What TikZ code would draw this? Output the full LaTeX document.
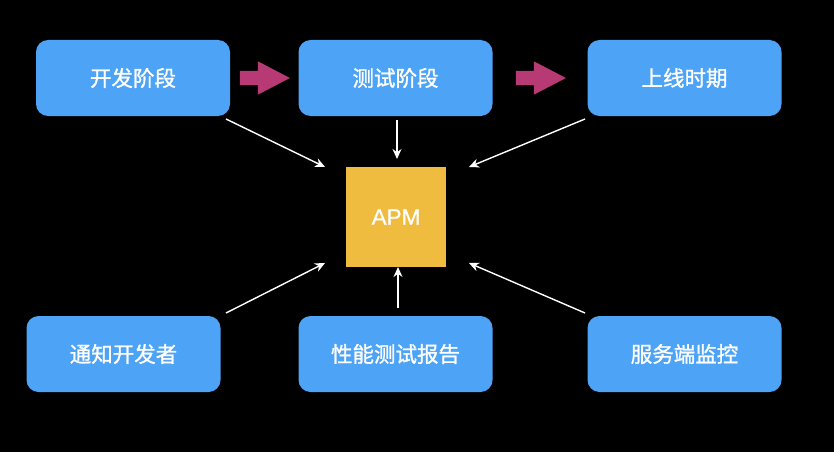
\documentclass[tikz,border=0pt]{standalone}
\usepackage{fontspec}
\setmainfont{Noto Sans CJK SC}
\newfontfamily\stagefont{Noto Sans CJK SC}[FakeBold=1.2]
\newfontfamily\apmfont{Liberation Sans}[FakeBold=0.8]
\usetikzlibrary{positioning, arrows.meta, shapes.arrows}
\definecolor{boxblue}{HTML}{4DA3F6}
\definecolor{apmyellow}{HTML}{F0BC40}
\definecolor{steppink}{HTML}{B83A74}

\begin{document}
\begin{tikzpicture}[x=1pt, y=-1pt,
  stage/.style={fill=boxblue, rounded corners=12pt, minimum width=194pt, minimum height=76pt, text=white, font=\stagefont\fontsize{21.5}{24}\selectfont},
  core/.style={fill=apmyellow, minimum width=100pt, minimum height=100pt, text=white, font=\apmfont\fontsize{22.5}{25}\selectfont},
  flow/.style={single arrow, fill=steppink, minimum height=50pt, minimum width=33pt, inner sep=7pt, single arrow head extend=9.5pt, single arrow tip angle=55},
  link/.style={-{Stealth[length=10pt, width=9pt]}, draw=white, line width=1.4pt}]
  \fill[black] (0,0) rectangle (834,452);
  \useasboundingbox (0,0) rectangle (834,452);
  \node[stage] (dev) at (133,78) {开发阶段};
  \node[stage] (test) at (395.5,78) {测试阶段};
  \node[stage] (live) at (684.5,78) {上线时期};
  \node[stage] (notify) at (123.5,354) {通知开发者};
  \node[stage] (report) at (395.5,354) {性能测试报告};
  \node[stage] (server) at (684.5,354) {服务端监控};
  \node[core] (apm) at (396,217) {APM};
  \node[flow] (f1) at (258,78) {};
  \node[flow] (f2) at (534,78) {};
  % free ends
  \coordinate (a1) at (226,119);
  \coordinate (b1) at (325,167);
  \coordinate (a2) at (397,120);
  \coordinate (b2) at (397,159);
  \coordinate (a3) at (585,119);
  \coordinate (b3) at (469,167);
  \coordinate (a4) at (226,313);
  \coordinate (b4) at (325,263);
  \coordinate (a5) at (398,308);
  \coordinate (b5) at (398,267);
  \coordinate (a6) at (585,313);
  \coordinate (b6) at (469,263);
  \draw[link] (a1) -- (b1);
  \draw[link] (a2) -- (b2);
  \draw[link] (a3) -- (b3);
  \draw[link] (a4) -- (b4);
  \draw[link] (a5) -- (b5);
  \draw[link] (a6) -- (b6);
\end{tikzpicture}
\end{document}
